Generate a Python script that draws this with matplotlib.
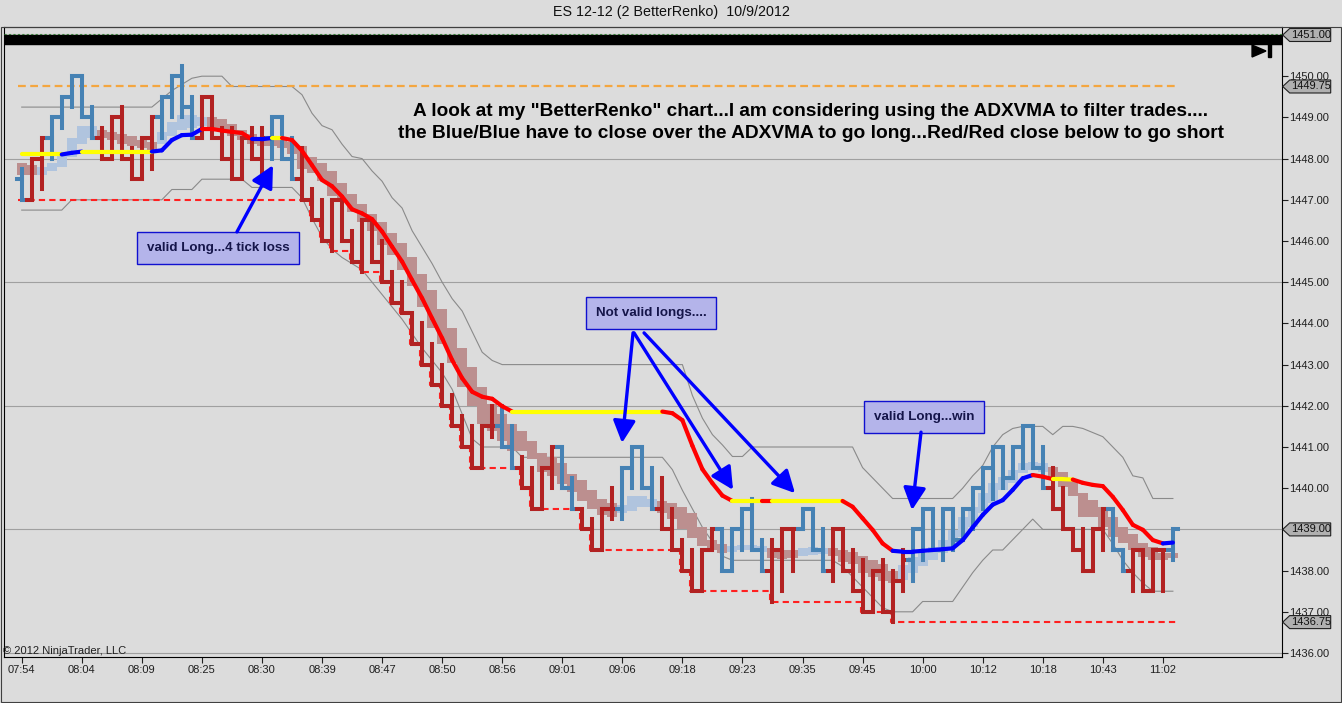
import numpy as np
import matplotlib
matplotlib.use("Agg")
import matplotlib.pyplot as plt
import matplotlib.transforms as mtransforms
from matplotlib.collections import LineCollection
from matplotlib.patches import Polygon, Rectangle

plt.rcParams['font.family'] = ['Liberation Sans', 'DejaVu Sans']

# ---- data (one entry per renko bar) ----
time_labels = ['07:54', '08:04', '08:09', '08:25', '08:30', '08:39', '08:47', '08:50', '08:56', '09:01',
               '09:06', '09:18', '09:23', '09:35', '09:45', '10:00', '10:12', '10:18', '10:43', '11:02']

first_open = 1447.5

bar_lo = [
    1447.0, 1447.0, 1447.25, 1448.0, 1448.75, 1449.25, 1449.0, 1448.5, 1448.0, 1448.0,
    1448.0, 1447.5, 1447.5, 1447.75, 1448.5, 1449.0, 1449.0, 1448.5, 1448.5, 1448.5,
    1448.0, 1447.5, 1447.5, 1448.0, 1447.5, 1448.0, 1448.0, 1447.5, 1447.0, 1446.5,
    1446.0, 1445.75, 1446.0, 1445.5, 1445.25, 1445.5, 1445.0, 1444.5, 1444.25, 1443.5,
    1443.0, 1442.5, 1442.0, 1441.5, 1441.0, 1440.5, 1440.5, 1441.25, 1441.0, 1440.5,
    1440.0, 1439.5, 1439.5, 1440.0, 1440.0, 1439.5, 1439.0, 1438.5, 1438.5, 1439.25,
    1439.25, 1440.0, 1440.0, 1439.5, 1439.0, 1438.5, 1438.0, 1437.5, 1437.5, 1438.5,
    1438.0, 1438.0, 1438.5, 1438.5, 1438.0, 1437.25, 1437.5, 1438.0, 1439.0, 1438.5,
    1438.0, 1437.75, 1438.0, 1437.5, 1437.0, 1437.0, 1437.0, 1436.75, 1437.5, 1437.75,
    1438.25, 1438.5, 1438.25, 1438.5, 1438.75, 1439.0, 1439.5, 1439.75, 1440.0, 1440.25,
    1440.5, 1440.5, 1440.0, 1439.5, 1439.0, 1438.5, 1438.0, 1438.0, 1438.5, 1438.5,
    1438.0, 1437.5, 1437.5, 1437.5, 1437.5, 1438.25]

bar_hi = [
    1447.75, 1448.0, 1448.5, 1449.0, 1449.5, 1450.0, 1450.0, 1449.25, 1448.75, 1449.0,
    1449.25, 1448.25, 1448.5, 1449.0, 1449.5, 1450.0, 1450.25, 1449.5, 1449.5, 1449.5,
    1448.75, 1448.75, 1448.5, 1448.75, 1448.75, 1449.0, 1449.0, 1448.5, 1448.25, 1447.25,
    1447.0, 1447.0, 1447.0, 1446.25, 1446.5, 1446.5, 1446.0, 1445.25, 1445.0, 1444.25,
    1444.0, 1443.5, 1443.0, 1442.25, 1441.75, 1441.5, 1441.5, 1442.0, 1442.0, 1441.5,
    1440.75, 1440.5, 1440.5, 1441.0, 1441.0, 1440.25, 1439.5, 1439.25, 1439.5, 1440.0,
    1440.5, 1441.0, 1441.0, 1440.5, 1440.25, 1439.5, 1438.75, 1438.5, 1438.5, 1439.0,
    1439.0, 1439.0, 1439.5, 1439.75, 1438.75, 1438.75, 1439.0, 1439.0, 1439.5, 1439.5,
    1439.0, 1439.0, 1439.0, 1438.5, 1438.25, 1438.0, 1438.25, 1438.0, 1438.5, 1439.0,
    1439.5, 1439.5, 1439.5, 1439.5, 1439.5, 1440.0, 1440.5, 1441.0, 1441.0, 1441.0,
    1441.5, 1441.5, 1441.0, 1440.5, 1440.0, 1439.0, 1439.0, 1439.0, 1439.5, 1439.5,
    1438.5, 1438.5, 1438.5, 1438.5, 1438.5, 1439.0]

bar_close = [
    1447.0, 1448.0, 1448.5, 1449.0, 1449.5, 1450.0, 1449.0, 1448.5, 1448.0, 1449.0,
    1448.0, 1447.5, 1448.5, 1449.0, 1449.5, 1450.0, 1449.25, 1448.5, 1449.5, 1448.5,
    1448.0, 1447.5, 1448.5, 1448.0, 1448.5, 1449.0, 1448.0, 1447.5, 1447.0, 1446.5,
    1446.0, 1447.0, 1446.0, 1445.5, 1446.5, 1445.5, 1445.0, 1444.5, 1444.25, 1443.5,
    1443.0, 1442.5, 1442.0, 1441.5, 1441.0, 1440.5, 1441.5, 1441.5, 1441.0, 1440.5,
    1440.0, 1439.5, 1440.5, 1441.0, 1440.0, 1439.5, 1439.0, 1438.5, 1439.5, 1439.5,
    1440.5, 1441.0, 1440.0, 1439.5, 1439.0, 1438.5, 1438.0, 1437.5, 1438.5, 1439.0,
    1438.0, 1439.0, 1439.5, 1438.5, 1438.0, 1438.5, 1439.0, 1439.0, 1439.5, 1438.5,
    1438.0, 1439.0, 1438.0, 1437.5, 1437.0, 1438.0, 1437.0, 1437.75, 1438.25, 1439.0,
    1439.5, 1438.5, 1439.5, 1438.75, 1439.5, 1440.0, 1440.5, 1441.0, 1440.25, 1441.0,
    1441.5, 1440.5, 1440.0, 1439.5, 1439.0, 1438.5, 1438.0, 1439.0, 1439.5, 1438.5,
    1438.0, 1438.5, 1437.5, 1438.5, 1438.5, 1439.0]

bar_color = ("BRRBBBBBRR" "RRRRBBBBRR" "RRRRRBBBRR" "RRRRRRRRRR" "RRRRRRRRBB"
             "RRRRBBRRRR" "BBBBRRRRRR" "BBBBBRRRBB" "BRRRRRRRRB" "BBBBBBBBBB"
             "BBBRRRRRRB" "BRRRRB")

shade_lo = [
    1447.6, 1447.6, 1447.6, 1447.7, 1447.8, 1448.05, 1448.35, 1448.5, 1448.5, 1448.45,
    1448.35, 1448.3, 1448.25, 1448.2, 1448.35, 1448.55, 1448.7, 1448.75, 1448.8, 1448.75,
    1448.7, 1448.55, 1448.45, 1448.35, 1448.3, 1448.3, 1448.25, 1448.1, 1447.75, 1447.65,
    1447.45, 1447.1, 1446.95, 1446.7, 1446.45, 1446.25, 1445.9, 1445.65, 1445.3, 1444.9,
    1444.4, 1443.9, 1443.5, 1443.05, 1442.45, 1442.0, 1441.55, 1441.4, 1441.15, 1440.9,
    1440.9, 1440.7, 1440.4, 1440.3, 1440.1, 1439.9, 1439.7, 1439.5, 1439.35, 1439.3,
    1439.4, 1439.45, 1439.55, 1439.55, 1439.4, 1439.25, 1439.0, 1438.8, 1438.6, 1438.5,
    1438.42, 1438.45, 1438.5, 1438.5, 1438.45, 1438.3, 1438.28, 1438.3, 1438.35, 1438.38,
    1438.4, 1438.35, 1438.2, 1438.15, 1437.95, 1437.85, 1437.75, 1437.7, 1437.77, 1437.93,
    1438.1, 1438.26, 1438.42, 1438.58, 1438.82, 1439.07, 1439.39, 1439.63, 1439.96, 1440.12,
    1440.36, 1440.44, 1440.4, 1440.24, 1440.04, 1439.8, 1439.31, 1439.31, 1439.07, 1438.82,
    1438.66, 1438.5, 1438.34, 1438.26, 1438.26, 1438.3]

shade_hi = [
    1447.9, 1447.85, 1447.8, 1447.9, 1448.1, 1448.5, 1448.8, 1448.8, 1448.7, 1448.65,
    1448.6, 1448.55, 1448.45, 1448.4, 1448.65, 1448.9, 1449.05, 1449.05, 1449.0, 1449.0,
    1448.95, 1448.85, 1448.7, 1448.6, 1448.5, 1448.5, 1448.45, 1448.4, 1448.3, 1448.05,
    1447.9, 1447.7, 1447.4, 1447.15, 1446.9, 1446.65, 1446.45, 1446.2, 1445.95, 1445.6,
    1445.2, 1444.8, 1444.35, 1443.9, 1443.4, 1442.95, 1442.45, 1442.05, 1441.8, 1441.55,
    1441.4, 1441.15, 1440.85, 1440.75, 1440.6, 1440.35, 1440.2, 1439.95, 1439.75, 1439.65,
    1439.6, 1439.8, 1439.8, 1439.75, 1439.7, 1439.65, 1439.55, 1439.4, 1439.05, 1438.75,
    1438.65, 1438.6, 1438.62, 1438.62, 1438.6, 1438.55, 1438.5, 1438.5, 1438.55, 1438.58,
    1438.55, 1438.55, 1438.5, 1438.45, 1438.35, 1438.25, 1438.15, 1438.0, 1438.14, 1438.34,
    1438.42, 1438.58, 1438.74, 1438.98, 1439.31, 1439.55, 1439.88, 1440.12, 1440.28, 1440.44,
    1440.6, 1440.64, 1440.6, 1440.52, 1440.4, 1440.2, 1439.88, 1439.71, 1439.55, 1439.31,
    1439.07, 1438.9, 1438.66, 1438.58, 1438.42, 1438.42]

shade_color = ("RRBBBBBBRR" "RRRRBBBBBR" "RRRRRRRRRR" "RRRRRRRRRR" "RRRRRRRRRR"
               "RRRRRRRRRR" "BBBBRRRRRR" "RBBBBRRRBB" "BRRRRRRRBB" "BBBBBBBBBB"
               "BBBRRRRRRR" "RRRRRR")

adxvma = [
    1448.1, 1448.1, 1448.1, 1448.1, 1448.1, 1448.14, 1448.17, 1448.17, 1448.17, 1448.17,
    1448.17, 1448.17, 1448.17, 1448.17, 1448.2, 1448.45, 1448.57, 1448.58, 1448.72, 1448.72,
    1448.68, 1448.65, 1448.62, 1448.47, 1448.47, 1448.5, 1448.5, 1448.45, 1448.19, 1447.84,
    1447.48, 1447.33, 1447.08, 1446.77, 1446.67, 1446.53, 1446.23, 1445.86, 1445.5, 1445.05,
    1444.61, 1444.12, 1443.64, 1443.11, 1442.67, 1442.34, 1442.22, 1442.17, 1441.99, 1441.86,
    1441.86, 1441.86, 1441.86, 1441.86, 1441.86, 1441.86, 1441.86, 1441.86, 1441.86, 1441.86,
    1441.86, 1441.86, 1441.86, 1441.86, 1441.86, 1441.82, 1441.65, 1441.03, 1440.46, 1440.12,
    1439.82, 1439.69, 1439.69, 1439.69, 1439.69, 1439.69, 1439.69, 1439.69, 1439.69, 1439.69,
    1439.69, 1439.69, 1439.69, 1439.55, 1439.27, 1438.99, 1438.66, 1438.48, 1438.46, 1438.46,
    1438.48, 1438.5, 1438.52, 1438.54, 1438.74, 1439.05, 1439.35, 1439.6, 1439.71, 1439.96,
    1440.24, 1440.32, 1440.28, 1440.22, 1440.22, 1440.21, 1440.13, 1440.08, 1440.05, 1439.79,
    1439.47, 1439.11, 1438.99, 1438.74, 1438.66, 1438.68]

adxvma_color = ("YYYYYBBYYY" "YYYYBBBBBR" "RRRRBBYRRR" "RRRRRRRRRR" "RRRRRRRRRR"
                "YYYYYYYYYY" "YYYYYRRRRR" "RRYYYRYYYY" "YYYRRRRRBB" "BBBBBBBBBB"
                "BBRRYYRRRR" "RRRRRB")

upper_band = [
    1449.25, 1449.25, 1449.25, 1449.25, 1449.25, 1449.25, 1449.25, 1449.25, 1449.25, 1449.25,
    1449.25, 1449.25, 1449.25, 1449.25, 1449.45, 1449.65, 1449.8, 1449.95, 1450.0, 1450.0,
    1450.0, 1449.75, 1449.75, 1449.75, 1449.75, 1449.75, 1449.75, 1449.75, 1449.55, 1449.1,
    1448.8, 1448.7, 1448.35, 1448.05, 1448.0, 1447.7, 1447.45, 1447.05, 1446.8, 1446.25,
    1445.85, 1445.45, 1445.0, 1444.6, 1444.3, 1443.8, 1443.3, 1443.1, 1443.0, 1443.0,
    1443.0, 1443.0, 1443.0, 1443.0, 1443.0, 1443.0, 1443.0, 1443.0, 1443.0, 1443.0,
    1443.0, 1443.0, 1443.0, 1443.0, 1443.0, 1443.0, 1443.0, 1442.25, 1441.7, 1441.3,
    1441.05, 1440.77, 1440.77, 1441.0, 1441.0, 1441.0, 1441.0, 1441.0, 1441.0, 1441.0,
    1441.0, 1441.0, 1441.0, 1441.0, 1440.5, 1440.25, 1440.0, 1439.75, 1439.75, 1439.75,
    1439.75, 1439.75, 1439.75, 1439.75, 1440.0, 1440.3, 1440.55, 1441.0, 1441.3, 1441.45,
    1441.5, 1441.5, 1441.5, 1441.3, 1441.5, 1441.5, 1441.45, 1441.35, 1441.25, 1441.0,
    1440.75, 1440.3, 1440.25, 1439.75, 1439.75, 1439.75]

lower_band = [
    1446.75, 1446.75, 1446.75, 1446.75, 1446.75, 1447.0, 1447.0, 1447.0, 1447.0, 1447.0,
    1447.0, 1447.0, 1447.0, 1447.0, 1447.0, 1447.25, 1447.25, 1447.25, 1447.5, 1447.5,
    1447.5, 1447.5, 1447.5, 1447.3, 1447.3, 1447.3, 1447.3, 1447.3, 1447.05, 1446.55,
    1446.1, 1445.8, 1445.6, 1445.45, 1445.3, 1445.0, 1444.7, 1444.4, 1444.1, 1443.75,
    1443.4, 1443.1, 1442.8, 1442.4, 1441.8, 1441.2, 1441.0, 1441.0, 1441.0, 1441.0,
    1440.75, 1440.75, 1440.75, 1440.75, 1440.75, 1440.75, 1440.75, 1440.75, 1440.75, 1440.75,
    1440.75, 1440.75, 1440.75, 1440.75, 1440.75, 1440.45, 1439.95, 1439.5, 1439.05, 1438.7,
    1438.35, 1438.25, 1438.25, 1438.25, 1438.25, 1438.25, 1438.25, 1438.25, 1438.25, 1438.25,
    1438.25, 1438.25, 1438.1, 1437.85, 1437.6, 1437.35, 1437.1, 1437.0, 1437.0, 1437.0,
    1437.25, 1437.25, 1437.25, 1437.25, 1437.6, 1437.95, 1438.25, 1438.5, 1438.5, 1438.75,
    1439.0, 1439.25, 1439.0, 1439.0, 1439.0, 1439.0, 1439.0, 1439.0, 1439.0, 1438.65,
    1438.25, 1437.95, 1437.7, 1437.5, 1437.5, 1437.5]

stop_level = [
    1447.0, 1447.0, 1447.0, 1447.0, 1447.0, 1447.0, 1447.0, 1447.0, 1447.0, 1447.0,
    1447.0, 1447.0, 1447.0, 1447.0, 1447.0, 1447.0, 1447.0, 1447.0, 1447.0, 1447.0,
    1447.0, 1447.0, 1447.0, 1447.0, 1447.0, 1447.0, 1447.0, 1447.0, 1447.0, 1446.5,
    1446.0, 1445.75, 1445.75, 1445.5, 1445.25, 1445.25, 1445.0, 1444.5, 1444.25, 1443.5,
    1443.0, 1442.5, 1442.0, 1441.5, 1441.0, 1440.5, 1440.5, 1440.5, 1440.5, 1440.5,
    1440.0, 1439.5, 1439.5, 1439.5, 1439.5, 1439.5, 1439.0, 1438.5, 1438.5, 1438.5,
    1438.5, 1438.5, 1438.5, 1438.5, 1438.5, 1438.5, 1438.0, 1437.5, 1437.5, 1437.5,
    1437.5, 1437.5, 1437.5, 1437.5, 1437.5, 1437.25, 1437.25, 1437.25, 1437.25, 1437.25,
    1437.25, 1437.25, 1437.25, 1437.25, 1437.0, 1437.0, 1437.0, 1436.75, 1436.75, 1436.75,
    1436.75, 1436.75, 1436.75, 1436.75, 1436.75, 1436.75, 1436.75, 1436.75, 1436.75, 1436.75,
    1436.75, 1436.75, 1436.75, 1436.75, 1436.75, 1436.75, 1436.75, 1436.75, 1436.75, 1436.75,
    1436.75, 1436.75, 1436.75, 1436.75, 1436.75, 1436.75]

high_level = 1449.75
grid_levels = [1436, 1439, 1442, 1445, 1448]
price_tags = [(1451.00, '1451.00'), (1449.75, '1449.75'), (1439.00, '1439.00'), (1436.75, '1436.75')]

BG = '#dcdcdc'
BAR_COLS = {'B': '#4682b4', 'R': '#b22222'}
SHADE_COLS = {'B': '#b0c4de', 'R': '#bc8f8f'}
ADX_COLS = {'B': '#0000ff', 'R': '#ff0000', 'Y': '#ffff00'}

fig = plt.figure(figsize=(13.42, 7.03), dpi=100, facecolor=BG)
ax = fig.add_axes([4 / 1342, 1 - 657 / 703, (1281.7 - 4) / 1342, (657 - 27) / 703])
ax.set_facecolor(BG)
ax.set_xlim(-1.77, 125.87)
ax.set_ylim(1435.903, 1451.194)

x = np.arange(len(bar_lo))

for lvl in grid_levels:
    ax.axhline(lvl, color='#a0a0a0', lw=0.8, zorder=1)

ax.plot(x, upper_band, color='#8a8a8a', lw=0.8, zorder=1.5)
ax.plot(x, lower_band, color='#8a8a8a', lw=0.8, zorder=1.5)

# smoothed brick shading
s_lo = np.array(shade_lo)
s_hi = np.array(shade_hi)
ax.bar(x, s_hi - s_lo, bottom=s_lo, width=1.0, linewidth=0,
       color=[SHADE_COLS[c] for c in shade_color], zorder=2)

# highest / lowest stop lines
ax.plot([x[0] - 0.4, x[-1] + 0.5], [high_level, high_level], color='#f4a640', lw=1.6,
        ls=(0, (3.5, 2)), zorder=3)
sx = np.append(x - 0.2, x[-1] + 0.5)
sx[0] = x[0] - 0.4
sy = np.append(stop_level, stop_level[-1])
ax.step(sx, sy, where='post', color='#ff2020', lw=1.5, ls=(0, (3, 2)), zorder=3)

# renko bars: vertical range, open tick to the left, close tick to the right
segs, cols = [], []
for k in range(len(x)):
    c = BAR_COLS[bar_color[k]]
    prev = first_open if k == 0 else bar_close[k - 1]
    segs.append([(k, bar_lo[k]), (k, bar_hi[k])])
    segs.append([(k - 0.5, prev), (k, prev)])
    segs.append([(k, bar_close[k]), (k + 0.5, bar_close[k])])
    cols += [c, c, c]
ax.add_collection(LineCollection(segs, colors=cols, linewidths=2.9, capstyle='projecting', zorder=4))

# ADXVMA line coloured by slope state
aseg = [[(k - 1, adxvma[k - 1]), (k, adxvma[k])] for k in range(1, len(x))]
acol = [ADX_COLS[c] for c in adxvma_color[1:]]
ax.add_collection(LineCollection(aseg, colors=acol, linewidths=3.0, capstyle='round',
                                 joinstyle='round', zorder=5))

# black bar across the top and the scroll button
ax.axhline(1450.88, color='black', lw=7.5, zorder=6)
ax.axhline(1451.03, color='#3c7f3c', lw=0.8, ls=(0, (2, 2)), zorder=7)
ax.add_patch(Polygon([(0.9768, 0.9714), (0.9768, 0.9524), (0.9877, 0.9619)], closed=True,
                     transform=ax.transAxes, color='black', zorder=7, clip_on=False))
ax.add_patch(Rectangle((0.9895, 0.9524), 0.0025, 0.027, transform=ax.transAxes,
                       color='black', zorder=7, clip_on=False))

# axes styling
ax.yaxis.tick_right()
ticks = np.arange(1436, 1452, 1)
ax.set_yticks(ticks)
ax.set_yticklabels([f"{t:.2f}" for t in ticks])
ax.set_xticks(x[::6])
ax.set_xticklabels(time_labels)
ax.tick_params(axis='both', direction='out', length=4, width=0.8, labelsize=8,
               colors='#202020', pad=1.5)
for sp in ax.spines.values():
    sp.set_color('black')
    sp.set_linewidth(0.8)

# price tags on the right axis
tr = mtransforms.blended_transform_factory(ax.transAxes, ax.transData)
px = 1 / 1277.7
py = 1 / 41.2
for lvl, txt in price_tags:
    pts = [(1 + 1 * px, lvl), (1 + 8 * px, lvl + 6.5 * py), (1 + 49 * px, lvl + 6.5 * py),
           (1 + 49 * px, lvl - 6.5 * py), (1 + 8 * px, lvl - 6.5 * py)]
    ax.add_patch(Polygon(pts, closed=True, transform=tr, facecolor='#b0b0b0',
                         edgecolor='#202020', lw=0.8, clip_on=False, zorder=10))
    ax.text(1 + 9.5 * px, lvl, txt, transform=tr, ha='left', va='center', fontsize=8,
            color='#101010', clip_on=False, zorder=11)

# notes
ax.text(78.75, 1449.155, 'A look at my "BetterRenko" chart...I am considering using the ADXVMA to filter trades....',
        ha='center', va='center', fontsize=13.7, fontweight='bold', zorder=8)
ax.text(78.85, 1448.621, 'the Blue/Blue have to close over the ADXVMA to go long...Red/Red close below to go short',
        ha='center', va='center', fontsize=13.8, fontweight='bold', zorder=8)

box = dict(boxstyle='square,pad=0.75', facecolor='#b4b4ea', edgecolor='#1010d0', lw=1)
ax.text(19.61, 1445.84, 'valid Long...4 tick loss', ha='center', va='center', fontsize=9.6,
        fontweight='bold', color='#15154a', bbox=box, zorder=9)
ax.text(62.87, 1444.25, 'Not valid longs....', ha='center', va='center', fontsize=9.6,
        fontweight='bold', color='#15154a', bbox=box, zorder=9)
ax.text(90.14, 1441.74, 'valid Long...win', ha='center', va='center', fontsize=9.6,
        fontweight='bold', color='#15154a', bbox=box, zorder=9)

arrow = dict(arrowstyle='-|>,head_length=0.75,head_width=0.38', color='#0000ff', lw=2.4,
             mutation_scale=18, shrinkA=0, shrinkB=0)
for (x0, y0), (x1, y1) in [((21.5, 1446.22), (25.1, 1447.84)),
                           ((61.07, 1443.77), (59.97, 1441.1)),
                           ((61.17, 1443.77), (71.06, 1439.96)),
                           ((62.17, 1443.77), (77.25, 1439.88)),
                           ((89.84, 1441.36), (88.94, 1439.47))]:
    ax.annotate('', xy=(x1, y1), xytext=(x0, y0), arrowprops=arrow, zorder=9)

ax.text(-0.0008, 0.0095, '\u00a9 2012 NinjaTrader, LLC', transform=ax.transAxes,
        ha='left', va='center', fontsize=8, color='#202020', zorder=8)

fig.text(0.5, 1 - 12 / 703, 'ES 12-12 (2 BetterRenko)  10/9/2012', ha='center', va='center',
         fontsize=10.3, color='#101010')
fig.add_artist(Rectangle((0.5 / 1342, 1 - 701.5 / 703), 1340 / 1342, (701.5 - 27) / 703,
                         transform=fig.transFigure, fill=False, edgecolor='#404040', lw=0.8))

fig.savefig('out.png', dpi=100, facecolor=BG)
